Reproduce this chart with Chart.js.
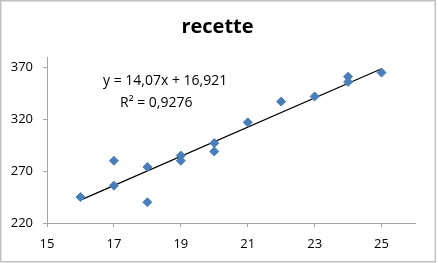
<!DOCTYPE html>
<html>
<head>
<meta charset="utf-8">
<script src="https://cdn.jsdelivr.net/npm/chart.js@4"></script>
<style>
  html, body { margin: 0; padding: 0; background: #fff; }
  #wrap { width: 438px; height: 263px; position: relative; }
</style>
</head>
<body>
<div id="wrap"><canvas id="chart" width="438" height="263"></canvas></div>
<script>
// values
const xValues = [16, 17, 17, 18, 18, 19, 19, 20, 20, 21, 22, 23, 24, 24, 25];
const yValues = [245, 280, 256, 274, 240, 285, 280, 297, 289, 317, 337, 342, 361, 356, 365];
const xTicks = [15, 17, 19, 21, 23, 25];
const yTicks = [220, 270, 320, 370];
const trendSlope = 14.07;
const trendIntercept = 16.921;
const trendFrom = 16;
const trendTo = 25;
const titleText = 'recette';
const equationText = 'y = 14,07x + 16,921';
const r2Text = 'R\u00b2 = 0,9276';

const points = xValues.map((x, i) => ({ x: x, y: yValues[i] }));
const trend = [trendFrom, trendTo].map(x => ({ x: x, y: trendSlope * x + trendIntercept }));

const frameAndText = {
  id: 'frameAndText',
  beforeDraw(chart) {
    const ctx = chart.ctx;
    ctx.save();
    ctx.fillStyle = '#fff';
    ctx.fillRect(0, 0, chart.width, chart.height);
    ctx.strokeStyle = '#c0c0c0';
    ctx.lineWidth = 1.5;
    ctx.strokeRect(0.75, 0.75, 434.5, 261);
    ctx.restore();
  },
  afterDraw(chart) {
    const ctx = chart.ctx;
    ctx.save();
    ctx.fillStyle = '#000';
    ctx.textBaseline = 'alphabetic';
    ctx.font = 'bold 20px "Open Sans"';
    ctx.textAlign = 'center';
    ctx.fillText(titleText, 217.5, 33);
    ctx.font = '14px "Open Sans"';
    ctx.textAlign = 'left';
    const a = chart.chartArea;
    ctx.fillText(equationText, a.left + 56, 85);
    ctx.fillText(r2Text, a.left + 73, 107);
    ctx.restore();
  }
};

new Chart(document.getElementById('chart').getContext('2d'), {
  type: 'scatter',
  data: {
    datasets: [
      {
        label: 'recette',
        data: points,
        pointStyle: 'rectRot',
        pointRadius: 4.5,
        backgroundColor: '#4A7EBB',
        borderColor: '#4A7EBB',
        borderWidth: 1,
        order: 1
      },
      {
        label: 'trend',
        data: trend,
        showLine: true,
        pointRadius: 0,
        borderColor: '#000',
        borderWidth: 1.3,
        order: 2
      }
    ]
  },
  options: {
    responsive: false,
    animation: false,
    layout: { padding: { top: 57, right: 23, left: 0, bottom: 0 } },
    plugins: {
      legend: { display: false },
      title: { display: false },
      tooltip: { enabled: false }
    },
    scales: {
      x: {
        type: 'linear',
        min: 15,
        max: 26,
        afterBuildTicks: s => { s.ticks = xTicks.map(v => ({ value: v })); },
        afterFit: s => { s.height = 40; },
        grid: { display: true, drawOnChartArea: false, drawTicks: true, tickLength: 4, color: '#a6a6a6' },
        border: { display: true, color: '#a6a6a6', width: 1 },
        ticks: { color: '#000', font: { family: 'Open Sans', size: 13 }, padding: 9, maxRotation: 0 }
      },
      y: {
        type: 'linear',
        min: 220,
        max: 380,
        afterBuildTicks: s => { s.ticks = yTicks.map(v => ({ value: v })); },
        afterFit: s => { s.width = 47; },
        grid: { display: true, drawOnChartArea: false, drawTicks: true, tickLength: 4, color: '#a6a6a6' },
        border: { display: true, color: '#a6a6a6', width: 1 },
        ticks: { color: '#000', font: { family: 'Open Sans', size: 13 }, padding: 10 }
      }
    }
  },
  plugins: [frameAndText]
});
</script>
</body>
</html>
